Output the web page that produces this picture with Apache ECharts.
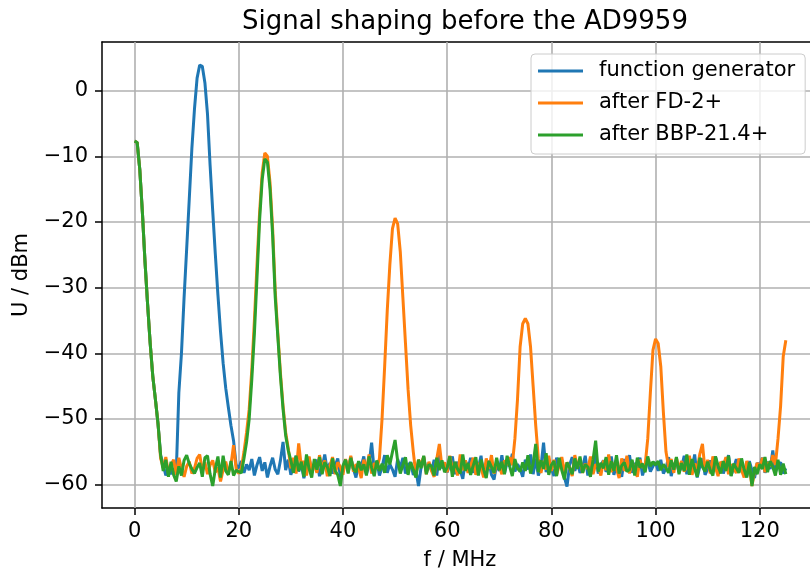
<!DOCTYPE html>
<html>
<head>
<meta charset="utf-8">
<script src="https://cdn.jsdelivr.net/npm/echarts@6/dist/echarts.min.js"></script>
<style>
html,body{margin:0;padding:0;background:#fff;overflow:hidden;}
#chart{width:810px;height:576px;}
</style>
</head>
<body>
<div id="chart"></div>
<script>
// Frequency sampling step (MHz); samples run from 0 to 125 MHz
const fStep = 0.5;
const seriesNames = ['function generator', 'after FD-2+', 'after BBP-21.4+'];
const xTicks = [0, 20, 40, 60, 80, 100, 120];
const yTicks = [-60, -50, -40, -30, -20, -10, 0];
const xTitle = 'f / MHz';
const yTitle = 'U / dBm';

// U / dBm values, one per fStep
const funcGen = [
-7.7,-7.9,-12,-18.5,-26,-32.5,-38.5,-43.5,-47,-50.7,
-55.5,-57.0,-58.6,-57.2,-58.4,-57.6,-58.2,-46,-40,-31.6,
-24.1,-16.5,-8.8,-2.8,1.9,3.9,3.7,1.2,-3.6,-11.4,
-18.3,-24.9,-31.1,-36.7,-41.5,-45.3,-48.2,-51.0,-53.3,-57.0,
-57.5,-56.4,-58.2,-56.9,-57.8,-56.1,-58.6,-57.0,-55.8,-57.9,
-56.6,-58.9,-57.2,-55.9,-57.7,-58.4,-56.3,-53.5,-57.8,-56.2,
-58.5,-57.1,-55.6,-58.0,-56.8,-59.0,-57.3,-55.9,-58.1,-57.0,
-56.2,-58.7,-57.5,-55.4,-57.9,-56.7,-58.3,-57.1,-56.0,-58.8,
-57.4,-56.3,-58.1,-55.8,-57.6,-58.9,-56.5,-57.2,-55.7,-58.4,
-57.0,-53.6,-57.9,-56.4,-58.6,-57.3,-55.5,-58.2,-56.9,-57.7,
-58.8,-56.1,-57.5,-55.9,-58.3,-57.0,-56.6,-58.5,-57.8,-60.2,
-57.3,-55.8,-58.0,-56.7,-57.9,-56.2,-58.6,-55.4,-57.5,-56.8,
-58.1,-57.0,-55.7,-58.4,-56.5,-57.8,-59.1,-56.3,-57.6,-55.9,
-58.2,-56.9,-57.4,-55.6,-58.7,-57.1,-56.4,-58.5,-59.2,-56.8,
-57.9,-55.5,-58.3,-56.6,-57.2,-55.3,-58.0,-56.9,-57.6,-58.8,
-56.2,-57.7,-55.4,-58.4,-56.0,-58.6,-57.3,-53.6,-58.1,-56.7,
-57.5,-58.7,-55.9,-57.2,-56.4,-58.9,-60.3,-57.0,-55.8,-57.9,
-56.5,-58.2,-57.4,-55.6,-58.6,-56.8,-57.7,-55.3,-58.3,-57.0,
-56.3,-58.0,-57.6,-55.7,-58.5,-56.9,-57.3,-58.8,-56.1,-57.8,
-55.5,-58.2,-56.7,-57.4,-55.9,-58.6,-57.1,-56.4,-58.0,-57.2,
-56.6,-57.9,-56.2,-58.3,-57.5,-55.8,-58.7,-57.0,-56.5,-58.1,
-57.3,-55.6,-58.4,-56.8,-57.7,-55.4,-58.9,-57.2,-56.0,-58.5,
-57.6,-56.3,-58.1,-55.7,-57.9,-56.6,-58.3,-57.0,-55.5,-58.6,
-57.4,-56.1,-58.0,-56.9,-57.5,-58.7,-56.4,-57.8,-59.0,-56.7,
-57.2,-55.9,-58.2,-56.5,-57.6,-54.8,-58.1,-57.0,-56.6,-58.3,
-57.5
];

const afterFD = [
-7.7,-7.9,-12,-18.5,-26,-32.5,-38.5,-43.5,-47,-50.7,
-56.0,-57.4,-55.8,-58.2,-57.0,-56.2,-58.5,-55.9,-57.6,-58.8,
-57.2,-56.5,-58.3,-57.5,-56.0,-55.4,-57.8,-56.6,-58.4,-57.0,
-56.3,-58.1,-57.4,-59.5,-57.7,-56.5,-58.2,-57.0,-54.0,-57.6,
-58.3,-57.5,-55.0,-52.0,-48.5,-42.5,-35.0,-26.5,-18.5,-12.5,
-9.5,-10.0,-14.0,-21.0,-30.5,-37.0,-43.0,-48.0,-52.0,-54.5,
-57.5,-55.9,-58.3,-53.7,-57.2,-56.4,-58.6,-55.7,-57.9,-56.8,
-58.2,-55.5,-57.6,-56.3,-58.7,-57.1,-55.8,-58.4,-56.6,-57.3,
-58.5,-56.1,-57.7,-55.6,-58.0,-56.9,-57.4,-59.0,-56.2,-57.8,
-55.4,-58.3,-56.7,-57.5,-56.0,-50.0,-42.0,-33.5,-26.5,-21.0,
-19.4,-20.3,-24.5,-31.5,-38.5,-45.5,-51.0,-55.0,-58.5,-56.2,
-57.0,-55.7,-58.4,-56.5,-57.9,-58.8,-56.1,-53.8,-57.3,-56.6,
-58.1,-55.6,-57.5,-56.9,-58.6,-55.4,-57.8,-56.3,-58.2,-57.1,
-55.9,-58.5,-56.7,-57.4,-58.9,-56.0,-57.6,-55.5,-58.3,-56.8,
-57.2,-58.4,-56.3,-57.0,-55.8,-57.0,-53.0,-47.0,-39.0,-35.5,
-34.7,-35.5,-39.0,-45.0,-51.0,-56.0,-58.2,-56.4,-57.7,-55.6,
-57.9,-56.2,-58.5,-57.1,-55.8,-58.0,-56.6,-57.4,-58.7,-55.5,
-57.3,-56.1,-58.2,-56.8,-57.6,-55.7,-58.4,-56.9,-57.2,-58.6,
-56.3,-57.8,-55.4,-58.1,-56.7,-57.5,-59.0,-56.0,-57.9,-55.6,
-58.3,-56.5,-57.7,-58.8,-56.2,-57.4,-57.0,-53.0,-46.0,-39.5,
-37.8,-38.5,-42.0,-49.0,-55.0,-57.3,-56.1,-58.2,-55.9,-57.5,
-56.4,-58.0,-57.2,-55.6,-58.5,-56.8,-57.6,-55.3,-53.8,-57.9,
-56.2,-58.3,-55.7,-57.4,-58.7,-56.5,-57.1,-55.8,-58.4,-56.9,
-57.6,-58.2,-56.0,-57.8,-58.9,-56.4,-57.3,-60.2,-58.0,-56.7,
-57.5,-55.9,-58.1,-56.6,-57.2,-55.5,-57.0,-53.0,-48.0,-40.5,
-38.0
];

const afterBBP = [
-7.7,-7.9,-12,-18.5,-26,-32.5,-38.5,-43.5,-47,-50.7,
-55.5,-57.9,-56.2,-58.8,-56.5,-58.5,-59.5,-57.2,-58.6,-56.3,
-55.5,-56.8,-57.6,-58.3,-57.4,-56.7,-58.8,-55.9,-55.6,-58.4,
-60.2,-57.6,-55.7,-58.9,-55.6,-57.9,-58.5,-56.4,-58.6,-57.8,
-58.0,-58.2,-56.0,-53.5,-50.0,-44.0,-37.0,-28.5,-19.7,-13.5,
-10.4,-10.9,-15.0,-22.0,-31.5,-37.5,-43.5,-48.5,-52.5,-54.8,
-56.3,-58.2,-55.6,-57.9,-56.5,-58.8,-55.4,-57.6,-58.9,-56.1,
-57.7,-55.8,-58.4,-56.6,-57.3,-58.7,-56.0,-57.9,-58.5,-60.2,
-57.1,-56.2,-58.3,-55.9,-57.6,-58.1,-56.4,-57.8,-56.9,-58.6,
-55.7,-57.4,-58.7,-56.3,-57.9,-56.8,-58.2,-55.5,-56.9,-55.0,
-53.2,-56.4,-58.3,-57.0,-55.8,-58.5,-56.6,-57.7,-58.9,-56.2,
-57.5,-55.6,-58.4,-56.9,-57.2,-58.6,-55.9,-57.8,-56.3,-58.1,
-57.4,-55.7,-58.8,-56.5,-57.6,-58.3,-55.4,-57.9,-56.7,-58.5,
-57.1,-55.8,-58.6,-56.2,-57.7,-59.0,-56.4,-57.3,-58.2,-55.9,
-57.8,-56.5,-58.4,-55.6,-57.2,-58.7,-56.1,-57.5,-58.0,-56.6,
-57.9,-55.5,-58.3,-56.8,-53.8,-58.1,-56.3,-57.6,-55.2,-58.5,
-57.0,-56.4,-58.7,-55.9,-57.8,-59.2,-56.6,-57.4,-58.4,-56.0,
-57.6,-55.7,-58.2,-56.9,-57.3,-58.8,-56.2,-53.3,-58.0,-56.7,
-57.5,-55.8,-58.5,-56.4,-57.9,-55.5,-58.3,-57.1,-56.6,-58.0,
-57.7,-56.2,-58.6,-55.9,-57.4,-56.8,-58.1,-55.7,-57.2,-56.5,
-57.0,-56.4,-57.8,-56.9,-57.5,-58.2,-56.3,-57.7,-55.8,-58.4,
-56.7,-57.9,-55.4,-58.5,-56.1,-57.6,-58.8,-55.9,-57.3,-58.0,
-56.5,-57.8,-58.6,-55.7,-57.1,-58.3,-56.4,-57.9,-55.6,-58.7,
-56.8,-57.5,-58.2,-56.0,-57.7,-58.9,-56.6,-60.2,-57.3,-58.4,
-56.9,-57.6,-55.8,-58.1,-56.4,-57.3,-58.6,-56.2,-58.5,-56.8,
-58.4
];

const colors = ['#1f77b4', '#ff7f0e', '#2ca02c'];
const FONT = 'DejaVu Sans';
const GRID_GREY = '#b0b0b0';

function toPairs(arr) {
  return arr.map((v, i) => [i * fStep, v]);
}
function minusFmt(v) {
  return String(v).replace('-', '\u2212');
}

const chart = echarts.init(document.getElementById('chart'), null, {renderer: 'canvas'});

function spine() {
  return {show: true, onZero: false, lineStyle: {color: '#000', width: 1.5}};
}

const dataSeries = [funcGen, afterFD, afterBBP].map((arr, k) => ({
  name: seriesNames[k],
  type: 'line',
  data: toPairs(arr),
  symbol: 'none',
  showSymbol: false,
  color: colors[k],
  lineStyle: {color: colors[k], width: 3}
}));

// vertical grid lines at the x tick values (drawn beneath the data lines)
const vGridSeries = {
  name: 'vgrid',
  type: 'line',
  z: 1,
  data: [],
  silent: true,
  markLine: {
    silent: true,
    z: 1,
    symbol: ['none', 'none'],
    label: {show: false},
    lineStyle: {color: GRID_GREY, width: 1.6, type: 'solid'},
    data: xTicks.map(v => ({xAxis: v}))
  }
};

const option = {
  animation: false,
  backgroundColor: '#ffffff',
  title: {
    text: 'Signal shaping before the AD9959',
    left: 460,
    top: 4,
    textAlign: 'center',
    textStyle: {fontFamily: FONT, fontSize: 26, fontWeight: 'normal', color: '#000'}
  },
  legend: {
    data: seriesNames,
    orient: 'vertical',
    left: 531,
    top: 54,
    padding: [6, 10, 8, 7],
    icon: 'rect',
    itemWidth: 45,
    itemHeight: 3,
    itemGap: 10,
    backgroundColor: 'rgba(255,255,255,0.8)',
    borderColor: '#cccccc',
    borderWidth: 1,
    borderRadius: 4,
    textStyle: {fontFamily: FONT, fontSize: 21, color: '#000', lineHeight: 22, padding: [0, 0, 0, 11]}
  },
  graphic: [
    {type: 'text', left: 'center', x: 0, style: {text: ''}, silent: true, invisible: true},
    {type: 'text', x: 460, y: 550, silent: true,
     style: {text: xTitle, font: '21px "DejaVu Sans"', fill: '#000', align: 'center', verticalAlign: 'top'}},
    {type: 'text', x: 22, y: 275, rotation: Math.PI / 2, silent: true,
     style: {text: yTitle, font: '21px "DejaVu Sans"', fill: '#000', align: 'center', verticalAlign: 'middle'}}
  ],
  grid: {
    left: 102,
    top: 42,
    right: 0,
    bottom: 68,
    outerBoundsMode: 'none',
    containLabel: false,
    show: false
  },
  xAxis: [{
    type: 'value',
    position: 'bottom',
    min: -6.25,
    max: 129.64,
    axisLine: spine(),
    axisTick: {show: true, length: 7, lineStyle: {color: '#000', width: 1.5}, customValues: xTicks},
    axisLabel: {
      margin: 13, fontFamily: FONT, fontSize: 21, color: '#000',
      customValues: xTicks,
      formatter: v => minusFmt(v)
    },
    splitLine: {show: false}
  }, {
    type: 'value',
    position: 'top',
    min: -6.25,
    max: 129.64,
    axisLine: spine(),
    axisTick: {show: false},
    axisLabel: {show: false},
    splitLine: {show: false}
  }],
  yAxis: {
    type: 'value',
    position: 'left',
    min: -63.55,
    max: 7.4,
    axisLine: spine(),
    axisTick: {show: true, length: 7, lineStyle: {color: '#000', width: 1.5}, customValues: yTicks},
    axisLabel: {
      margin: 14, fontFamily: FONT, fontSize: 21, color: '#000',
      customValues: yTicks,
      formatter: v => minusFmt(v)
    },
    splitLine: {show: true, lineStyle: {color: GRID_GREY, width: 1.6}}
  },
  series: [vGridSeries].concat(dataSeries)
};

chart.setOption(option);
</script>
</body>
</html>
